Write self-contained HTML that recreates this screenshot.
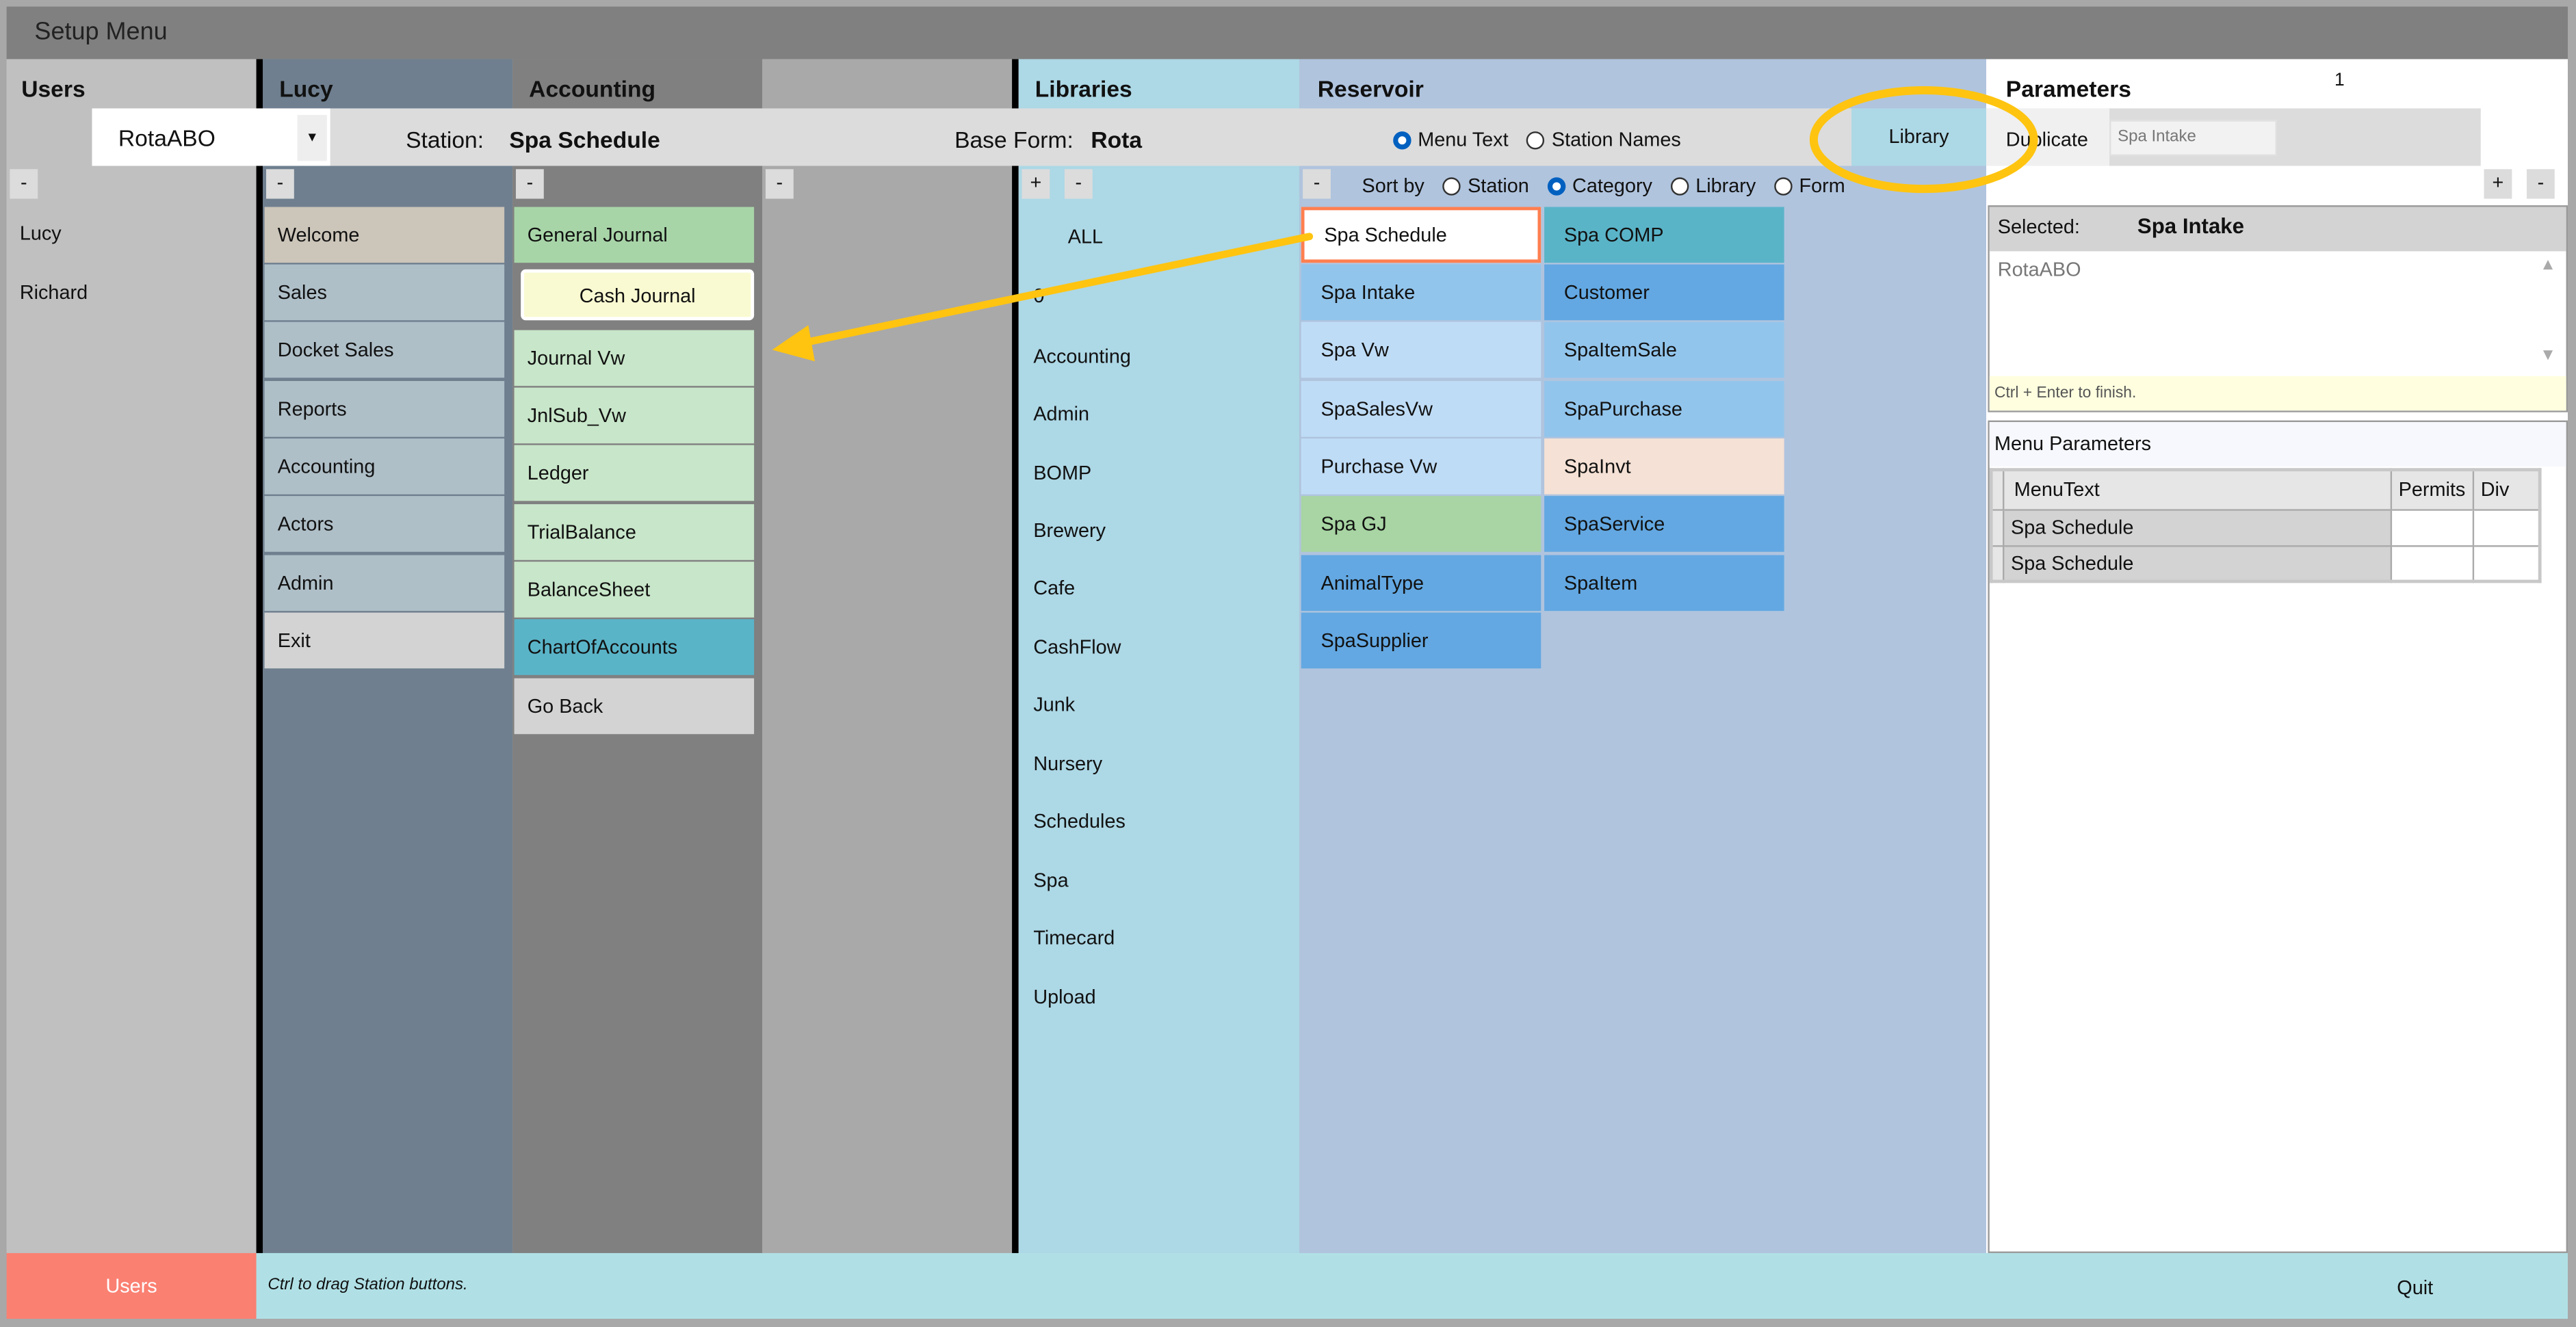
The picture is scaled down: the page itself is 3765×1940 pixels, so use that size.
<!DOCTYPE html>
<html><head><meta charset="utf-8"><style>
html,body{margin:0;padding:0;width:3765px;height:1940px;overflow:hidden;background:#a0a0a0}
#s{position:absolute;left:0;top:0;width:1568px;height:808px;transform:scale(2.40115,2.40099);transform-origin:0 0;font-family:"Liberation Sans",sans-serif;font-size:12px;color:#111}
.a{position:absolute;box-sizing:border-box}
.h{font-weight:bold;font-size:14px}
.b{position:absolute;box-sizing:border-box;height:34px;line-height:34px;padding-left:8px;white-space:nowrap}
.m{position:absolute;width:17px;height:18px;background:#dcdcdc;text-align:center;line-height:16px;font-size:12px}
.l{position:absolute;left:629px}
.r{display:inline-block;width:11px;height:11px;border:1px solid #333;border-radius:50%;background:#fff;vertical-align:-2px;margin:0 4px 0 8px;box-sizing:border-box}
.r.on{border:3px solid #0060c0}
</style></head><body><div id="s">
<div class="a" style="left:0;top:0;width:1568px;height:808px;background:#a8a8a8"></div>
<div class="a" style="left:4px;top:4px;width:1559px;height:32px;background:#808080;font-size:15px;line-height:32px;padding-left:17px;color:#222">Setup Menu</div>
<div class="a" style="left:4px;top:36px;width:152px;height:727px;background:#c0c0c0"></div>
<div class="a" style="left:156px;top:36px;width:4px;height:727px;background:#000"></div>
<div class="a" style="left:160px;top:36px;width:152px;height:727px;background:#6f7f8f"></div>
<div class="a" style="left:312px;top:36px;width:152px;height:727px;background:#808080"></div>
<div class="a" style="left:464px;top:36px;width:152px;height:727px;background:#a9a9a9"></div>
<div class="a" style="left:616px;top:36px;width:4px;height:727px;background:#000"></div>
<div class="a" style="left:620px;top:36px;width:171px;height:727px;background:#add8e6"></div>
<div class="a" style="left:791px;top:36px;width:418px;height:727px;background:#b0c4de"></div>
<div class="a" style="left:1209px;top:36px;width:354px;height:727px;background:#fff"></div>
<div class="a h" style="left:13px;top:46px">Users</div>
<div class="a h" style="left:170px;top:46px">Lucy</div>
<div class="a h" style="left:322px;top:46px">Accounting</div>
<div class="a h" style="left:630px;top:46px">Libraries</div>
<div class="a h" style="left:802px;top:46px">Reservoir</div>
<div class="a h" style="left:1221px;top:46px">Parameters</div>
<div class="a" style="left:1421px;top:43px;font-size:11px">1</div>
<div class="a" style="left:56px;top:66px;width:1154px;height:35px;background:#dcdcdc"></div>
<div class="a" style="left:1209px;top:66px;width:301px;height:35px;background:#dcdcdc"></div>
<div class="a" style="left:1209px;top:66px;width:75px;height:35px;background:#f0f0f0"></div>
<div class="a" style="left:56px;top:66px;width:145px;height:35px;background:#fff"></div>
<div class="a" style="left:72px;top:76px;font-size:14px">RotaABO</div>
<div class="a" style="left:181px;top:70px;width:18px;height:28px;background:#eee;text-align:center;line-height:28px;font-size:8px">▼</div>
<div class="a" style="left:247px;top:77px;font-size:14px">Station:</div>
<div class="a" style="left:310px;top:77px;font-size:14px;font-weight:bold">Spa Schedule</div>
<div class="a" style="left:581px;top:77px;font-size:14px">Base Form:</div>
<div class="a" style="left:664px;top:77px;font-size:14px;font-weight:bold">Rota</div>
<div class="a" style="left:840px;top:78px"><span class="r on"></span>Menu Text <span class="r"></span>Station Names</div>
<div class="a" style="left:1127px;top:66px;width:82px;height:35px;background:#add8e6;text-align:center;line-height:35px">Library</div>
<div class="a" style="left:1221px;top:78px">Duplicate</div>
<div class="a" style="left:1284px;top:73px;width:102px;height:22px;background:#f2f2f2;border:1px solid #e0e0e0;font-size:10px;color:#777;line-height:20px;padding-left:4px">Spa Intake</div>
<div class="m" style="left:6px;top:103px">-</div>
<div class="m" style="left:162px;top:103px">-</div>
<div class="m" style="left:314px;top:103px">-</div>
<div class="m" style="left:466px;top:103px">-</div>
<div class="m" style="left:622px;top:103px">+</div>
<div class="m" style="left:648px;top:103px">-</div>
<div class="m" style="left:793px;top:103px">-</div>
<div class="m" style="left:1512px;top:103px">+</div>
<div class="m" style="left:1538px;top:103px">-</div>
<div class="a" style="left:829px;top:106px">Sort by <span class="r"></span>Station <span class="r on"></span>Category <span class="r"></span>Library <span class="r"></span>Form</div>
<div class="a" style="left:12px;top:135px">Lucy</div>
<div class="a" style="left:12px;top:171px">Richard</div>
<div class="b" style="left:161px;top:126px;width:146px;background:#ccc5b9">Welcome</div>
<div class="b" style="left:161px;top:161px;width:146px;background:#afbfc8">Sales</div>
<div class="b" style="left:161px;top:196px;width:146px;background:#afbfc8">Docket Sales</div>
<div class="b" style="left:161px;top:232px;width:146px;background:#afbfc8">Reports</div>
<div class="b" style="left:161px;top:267px;width:146px;background:#afbfc8">Accounting</div>
<div class="b" style="left:161px;top:302px;width:146px;background:#afbfc8">Actors</div>
<div class="b" style="left:161px;top:338px;width:146px;background:#afbfc8">Admin</div>
<div class="b" style="left:161px;top:373px;width:146px;background:#d3d3d3">Exit</div>
<div class="b" style="left:313px;top:126px;width:146px;background:#a8d5a8">General Journal</div>
<div class="b" style="left:317px;top:164px;width:142px;height:31px;line-height:29px;background:#fafad2;border:2px solid #fff;border-radius:3px;text-align:center;padding:0">Cash Journal</div>
<div class="b" style="left:313px;top:201px;width:146px;background:#c8e6c9">Journal Vw</div>
<div class="b" style="left:313px;top:236px;width:146px;background:#c8e6c9">JnlSub_Vw</div>
<div class="b" style="left:313px;top:271px;width:146px;background:#c8e6c9">Ledger</div>
<div class="b" style="left:313px;top:307px;width:146px;background:#c8e6c9">TrialBalance</div>
<div class="b" style="left:313px;top:342px;width:146px;background:#c8e6c9">BalanceSheet</div>
<div class="b" style="left:313px;top:377px;width:146px;background:#5ab4c8">ChartOfAccounts</div>
<div class="b" style="left:313px;top:413px;width:146px;background:#d3d3d3">Go Back</div>
<div class="a" style="left:650px;top:137px">ALL</div>
<div class="l" style="top:173px">0</div>
<div class="l" style="top:210px">Accounting</div>
<div class="l" style="top:245px">Admin</div>
<div class="l" style="top:281px">BOMP</div>
<div class="l" style="top:316px">Brewery</div>
<div class="l" style="top:351px">Cafe</div>
<div class="l" style="top:387px">CashFlow</div>
<div class="l" style="top:422px">Junk</div>
<div class="l" style="top:458px">Nursery</div>
<div class="l" style="top:493px">Schedules</div>
<div class="l" style="top:529px">Spa</div>
<div class="l" style="top:564px">Timecard</div>
<div class="l" style="top:600px">Upload</div>
<div class="b" style="left:792px;top:126px;width:146px;background:#fff;border:2px solid #ff7f50;padding-left:12px;line-height:30px">Spa Schedule</div>
<div class="b" style="left:792px;top:161px;width:146px;background:#92c5ec;padding-left:12px">Spa Intake</div>
<div class="b" style="left:792px;top:196px;width:146px;background:#bfdcf6;padding-left:12px">Spa Vw</div>
<div class="b" style="left:792px;top:232px;width:146px;background:#bfdcf6;padding-left:12px">SpaSalesVw</div>
<div class="b" style="left:792px;top:267px;width:146px;background:#bfdcf6;padding-left:12px">Purchase Vw</div>
<div class="b" style="left:792px;top:302px;width:146px;background:#a8d5a3;padding-left:12px">Spa GJ</div>
<div class="b" style="left:792px;top:338px;width:146px;background:#63a8e2;padding-left:12px">AnimalType</div>
<div class="b" style="left:792px;top:373px;width:146px;background:#63a8e2;padding-left:12px">SpaSupplier</div>
<div class="b" style="left:940px;top:126px;width:146px;background:#5ab4c8;padding-left:12px">Spa COMP</div>
<div class="b" style="left:940px;top:161px;width:146px;background:#63a8e2;padding-left:12px">Customer</div>
<div class="b" style="left:940px;top:196px;width:146px;background:#92c5ec;padding-left:12px">SpaItemSale</div>
<div class="b" style="left:940px;top:232px;width:146px;background:#92c5ec;padding-left:12px">SpaPurchase</div>
<div class="b" style="left:940px;top:267px;width:146px;background:#f5e1d5;padding-left:12px">SpaInvt</div>
<div class="b" style="left:940px;top:302px;width:146px;background:#63a8e2;padding-left:12px">SpaService</div>
<div class="b" style="left:940px;top:338px;width:146px;background:#63a8e2;padding-left:12px">SpaItem</div>
<div class="a" style="left:1210px;top:125px;width:353px;height:126px;border:1px solid #999;background:#fff"></div>
<div class="a" style="left:1211px;top:126px;width:351px;height:27px;background:#d3d3d3"></div>
<div class="a" style="left:1216px;top:131px;font-size:12px">Selected:</div>
<div class="a" style="left:1301px;top:130px;font-weight:bold;font-size:13px">Spa Intake</div>
<div class="a" style="left:1216px;top:157px;color:#777">RotaABO</div>
<div class="a" style="left:1546px;top:156px;font-size:10px;color:#aaa">▲</div>
<div class="a" style="left:1546px;top:211px;font-size:10px;color:#aaa">▼</div>
<div class="a" style="left:1211px;top:229px;width:351px;height:21px;background:#ffffe0;font-size:9.5px;color:#555;line-height:21px;padding-left:3px">Ctrl + Enter to finish.</div>
<div class="a" style="left:1210px;top:256px;width:353px;height:507px;border:1px solid #999;background:#fff"></div>
<div class="a" style="left:1211px;top:257px;width:351px;height:27px;background:#f6f8fd"></div>
<div class="a" style="left:1214px;top:263px;font-size:12px">Menu Parameters</div>
<table style="position:absolute;left:1211px;top:285px;border-collapse:collapse;font-size:12px;width:336px;border:2px solid #c8c8c8">
<tr style="height:24px;background:#e6e6e6"><td style="width:4px;border-right:1px solid #aaa"></td><td style="padding-left:6px;border-right:1px solid #aaa">MenuText</td><td style="width:44px;border-right:1px solid #aaa;padding-left:4px">Permits</td><td style="width:34px;padding-left:4px">Div</td></tr>
<tr style="height:22px"><td style="background:#e6e6e6;border-top:1px solid #aaa"></td><td style="background:#d3d3d3;padding-left:4px;border:1px solid #aaa">Spa Schedule</td><td style="border:1px solid #aaa"></td><td style="border:1px solid #aaa"></td></tr>
<tr style="height:22px"><td style="background:#e6e6e6;border-top:1px solid #aaa"></td><td style="background:#d3d3d3;padding-left:4px;border:1px solid #aaa">Spa Schedule</td><td style="border:1px solid #aaa"></td><td style="border:1px solid #aaa"></td></tr>
</table>
<div class="a" style="left:4px;top:763px;width:152px;height:40px;background:#fa8072;color:#fff;text-align:center;line-height:40px">Users</div>
<div class="a" style="left:156px;top:763px;width:1407px;height:40px;background:#b0e0e6"></div>
<div class="a" style="left:163px;top:777px;font-size:10px;font-style:italic">Ctrl to drag Station buttons.</div>
<div class="a" style="left:1459px;top:777px">Quit</div>
<svg class="a" style="left:0;top:0" width="1568" height="808">
<line x1="797" y1="144" x2="488" y2="209" stroke="#ffc410" stroke-width="4.5" stroke-linecap="round"/>
<polygon points="470,213 492,198 496,220" fill="#ffc410"/>
<ellipse cx="1171" cy="85" rx="67" ry="30" fill="none" stroke="#ffc410" stroke-width="5"/>
</svg>
</div></body></html>
